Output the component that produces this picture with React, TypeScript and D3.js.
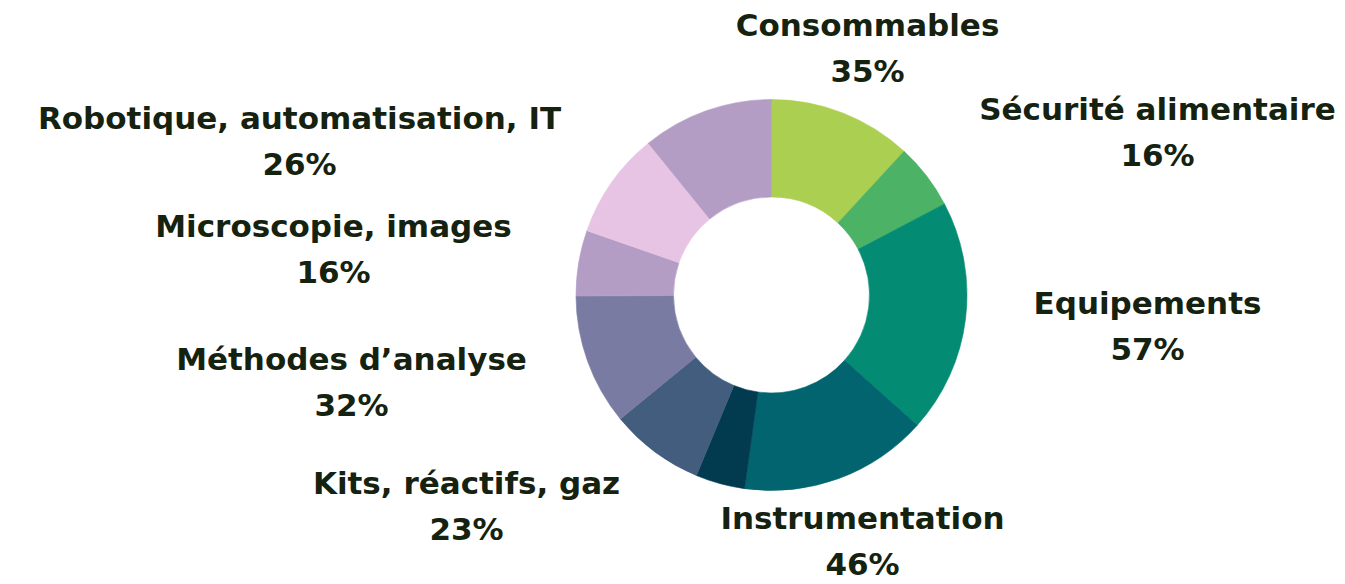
import { useEffect, useRef } from 'react';
import * as d3 from 'd3';

// slices clockwise from 12 o'clock (two of them carry no label in the source)
const categories = [
  'Consommables',
  'Sécurité alimentaire',
  'Equipements',
  'Instrumentation',
  '',
  'Kits, réactifs, gaz',
  'Méthodes d’analyse',
  'Microscopie, images',
  'Robotique, automatisation, IT',
  '',
];
const values = [35, 16, 57, 46, 12, 23, 32, 16, 26, 32];
const colors = [
  '#abcf50', '#4cb266', '#038c73', '#01646f', '#023a50',
  '#425d7e', '#7a7ba2', '#b39dc5', '#e8c4e4', '#b39dc5',
];
// label block centres, relative to the donut centre (hand-placed in the original)
const labelOffsets: [number, number][] = [
  [96, -248], [386, -164], [376, 30], [91, 245], [0, 0],
  [-305, 210], [-420, 86], [-438, -47], [-472, -155], [0, 0],
];

const W = 1345;
const H = 584;

export default function App() {
  const ref = useRef<SVGSVGElement | null>(null);

  useEffect(() => {
    const svg = d3.select(ref.current);
    svg.selectAll('*').remove();

    const cx = 771.5;
    const cy = 295;
    const outer = 195.5;
    const inner = 98;

    const data = categories.map((c, i) => ({ name: c, value: values[i], color: colors[i], off: labelOffsets[i] }));
    const pie = d3.pie<any>().sort(null).value(d => d.value);
    const arc = d3.arc<any>().innerRadius(inner).outerRadius(outer);

    const g = svg.append('g').attr('transform', `translate(${cx},${cy})`);
    g.selectAll('path').data(pie(data)).enter().append('path')
      .attr('d', arc)
      .style('fill', d => d.data.color)
      .style('stroke', d => d.data.color)
      .style('stroke-width', 0.6);

    const labels = g.selectAll('.lbl').data(data.filter(d => d.name)).enter().append('text')
      .attr('class', 'lbl')
      .attr('text-anchor', 'middle')
      .style('font-family', "'DejaVu Sans', sans-serif")
      .style('font-weight', 700)
      .style('font-size', '31px')
      .style('fill', '#15220f');
    labels.append('tspan')
      .attr('x', d => d.off[0]).attr('y', d => d.off[1] - 11)
      .text(d => d.name);
    labels.append('tspan')
      .attr('x', d => d.off[0]).attr('y', d => d.off[1] + 35)
      .text(d => `${d.value}%`);
  }, []);

  return (
    <svg ref={ref} width={W} height={H}
      style={{ position: 'absolute', left: 0, top: 0, display: 'block', background: '#fff' }} />
  );
}
